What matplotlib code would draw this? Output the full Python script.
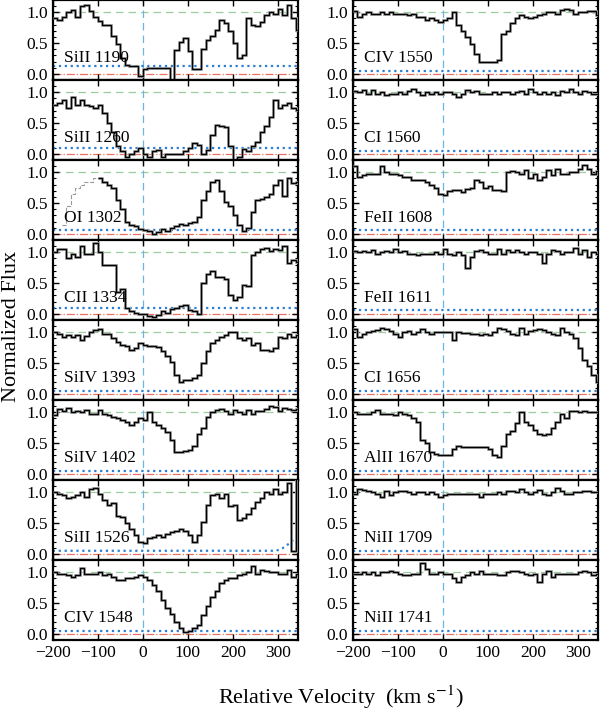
import numpy as np
import matplotlib
matplotlib.use("Agg")
import matplotlib.pyplot as plt
from matplotlib.ticker import MultipleLocator

plt.rcParams['font.family'] = ['Liberation Serif', 'DejaVu Serif']
plt.rcParams['mathtext.fontset'] = 'stix'

nan = np.nan
v_start = -200   # first bin edge, km/s
v_step = 10      # bin width, km/s

# normalized flux per transition (10 km/s bins from -200)
sii1190 = [0.90, 0.88, 0.92, 1.00, 1.03, 0.92, 1.10, 1.12, 1.02, 0.92,
           0.86, 0.80, 0.80, 0.62, 0.48, 0.25, 0.15, 0.13, 0.13, -0.03,
           0.08, 0.10, 0.10, 0.10, 0.10, 0.10, -0.15, 0.38, 0.52, 0.58,
           0.37, 0.08, 0.08, 0.40, 0.55, 0.62, 0.72, 0.88, 0.82, 0.70,
           0.50, 0.26, 0.30, 0.90, 0.80, 0.77, 0.85, 0.95, 1.00, 0.97,
           1.05, 0.95, 1.12, 0.90, 0.72]
sii1260 = [0.80, 0.82, 0.88, 0.75, 0.92, 0.80, 0.88, 0.80, 0.78, 0.75,
           0.80, 0.67, 0.50, 0.35, 0.12, 0.05, -0.05, 0.00, 0.05, 0.10,
           0.00, -0.05, 0.05, 0.07, -0.05, 0.00, 0.00, 0.00, 0.00, 0.05,
           0.10, 0.17, 0.14, 0.00, 0.07, 0.30, 0.47, 0.45, 0.44, 0.13,
           -0.12, -0.05, 0.08, 0.05, 0.12, 0.20, 0.35, 0.45, 0.60, 0.87,
           0.75, 0.80, 0.82, 0.75, 0.72]
oi1302 = [nan, nan, nan, nan, nan, nan, nan, nan, nan, nan,
          0.90, 0.85, 0.80, 0.75, 0.55, 0.40, 0.20, 0.15, 0.12, 0.08,
          0.07, 0.05, 0.00, 0.03, 0.08, 0.05, 0.10, 0.13, 0.16, 0.14,
          0.17, 0.20, 0.28, 0.55, 0.70, 0.85, 0.88, 0.70, 0.52, 0.45,
          0.30, 0.15, 0.04, 0.10, 0.35, 0.55, 0.57, 0.60, 0.65, 0.80,
          0.88, 0.62, 0.90, 0.83, 0.85]
# blended part of OI 1302 (grey, -180 to -100 km/s)
oi1302_blend = [0.15, 0.45, 0.65, 0.75, 0.80, 0.85, 0.85, 0.90]
cii1334 = [1.00, 1.05, 1.05, 0.90, 0.98, 0.92, 1.10, 0.97, 0.97, 1.15,
           1.00, 0.80, 0.80, 0.80, 0.35, 0.40, 0.10, 0.05, 0.02, 0.00,
           -0.01, -0.03, -0.05, -0.02, 0.05, 0.02, 0.08, 0.10, 0.12, 0.14,
           0.07, 0.05, 0.00, 0.50, 0.65, 0.70, 0.60, 0.60, 0.57, 0.30,
           0.22, 0.28, 0.47, 0.45, 0.95, 1.00, 1.05, 1.07, 1.02, 1.05,
           1.03, 1.10, 0.82, 0.88, 0.85]
siiv1393 = [1.00, 0.97, 0.92, 0.95, 0.92, 0.95, 0.88, 0.94, 1.00, 1.04,
            1.05, 0.98, 0.97, 0.90, 0.85, 0.80, 0.77, 0.72, 0.75, 0.83,
            0.80, 0.78, 0.77, 0.76, 0.70, 0.62, 0.52, 0.30, 0.20, 0.22,
            0.23, 0.25, 0.30, 0.50, 0.70, 0.82, 0.87, 0.93, 0.95, 1.00,
            1.00, 0.90, 0.88, 0.90, 0.80, 0.82, 0.72, 0.72, 0.70, 0.75,
            0.93, 0.90, 0.97, 0.92, 0.95]
siiv1402 = [0.95, 1.05, 1.02, 1.07, 1.00, 1.02, 1.00, 1.03, 0.97, 0.98,
            1.03, 0.98, 0.95, 0.93, 0.90, 0.88, 0.85, 0.80, 0.85, 0.90,
            0.87, 1.00, 0.85, 0.80, 0.75, 0.68, 0.55, 0.36, 0.35, 0.37,
            0.38, 0.45, 0.65, 0.75, 0.93, 1.00, 1.03, 1.05, 1.02, 0.98,
            1.03, 1.00, 0.98, 1.03, 0.98, 1.02, 1.02, 1.05, 1.10, 1.08,
            1.02, 1.07, 1.05, 1.03, 1.05]
sii1526 = [1.00, 0.97, 0.95, 0.90, 0.92, 0.95, 1.00, 0.92, 1.05, 1.07,
           0.97, 0.88, 0.80, 0.82, 0.62, 0.60, 0.50, 0.40, 0.30, 0.20,
           0.18, 0.25, 0.27, 0.30, 0.28, 0.32, 0.35, 0.37, 0.40, 0.37,
           0.30, 0.20, 0.30, 0.52, 0.80, 0.95, 0.97, 0.90, 0.98, 0.77,
           0.80, 0.55, 0.58, 0.65, 0.75, 0.85, 0.90, 1.00, 0.97, 1.05,
           0.98, 1.00, 1.15, 0.05, 1.30]
civ1548 = [1.00, 0.98, 0.97, 0.95, 0.92, 0.95, 1.07, 0.97, 0.97, 0.97,
           1.00, 0.95, 0.97, 0.92, 0.88, 0.88, 0.90, 0.90, 0.92, 0.95,
           0.93, 0.88, 0.80, 0.70, 0.55, 0.42, 0.32, 0.20, 0.10, 0.03,
           0.05, 0.10, 0.15, 0.30, 0.45, 0.60, 0.70, 0.82, 0.87, 0.90,
           0.90, 0.95, 0.97, 1.00, 1.10, 0.97, 1.03, 1.02, 1.00, 1.00,
           0.98, 0.98, 1.03, 0.93, 0.97]
civ1550 = [1.02, 0.93, 0.98, 1.00, 0.97, 0.98, 1.00, 0.98, 1.00, 0.97,
           0.98, 0.97, 0.95, 0.97, 0.93, 0.93, 0.88, 0.90, 0.88, 0.85,
           0.87, 0.90, 1.00, 0.80, 0.70, 0.60, 0.48, 0.32, 0.20, 0.19,
           0.20, 0.20, 0.22, 0.65, 0.70, 0.82, 0.90, 0.95, 0.92, 0.90,
           0.92, 0.95, 0.98, 1.00, 1.00, 0.98, 1.03, 1.05, 1.03, 0.98,
           1.00, 1.00, 1.02, 1.02, 0.95]
ci1560 = [1.02, 1.00, 1.03, 0.98, 1.03, 0.97, 1.00, 0.95, 0.97, 0.98,
          1.00, 0.97, 1.02, 1.05, 1.00, 0.95, 1.00, 0.98, 1.00, 0.98,
          1.00, 1.00, 0.97, 0.93, 0.97, 1.03, 1.00, 1.02, 0.97, 0.97,
          0.98, 1.00, 0.98, 1.00, 1.00, 0.98, 1.00, 1.02, 0.97, 1.05,
          1.00, 0.98, 1.00, 0.97, 1.00, 0.95, 1.02, 1.00, 1.05, 1.00,
          0.98, 1.02, 1.00, 0.97, 0.98]
feii1608 = [1.10, 0.93, 0.95, 0.97, 0.97, 0.98, 1.10, 1.00, 0.98, 0.97,
            0.95, 0.93, 0.93, 0.88, 0.87, 0.88, 0.85, 0.80, 0.75, 0.65,
            0.63, 0.70, 0.72, 0.72, 0.68, 0.73, 0.75, 0.88, 0.85, 0.75,
            0.78, 0.72, 0.72, 0.70, 1.00, 1.02, 1.00, 0.97, 1.03, 0.90,
            0.98, 0.88, 0.92, 1.03, 0.95, 1.05, 0.98, 0.98, 1.00, 1.00,
            1.05, 1.12, 1.05, 0.97, 1.02]
feii1611 = [1.02, 1.00, 1.02, 1.00, 1.03, 0.98, 1.00, 1.02, 1.00, 1.05,
            1.00, 1.02, 0.98, 0.97, 0.95, 0.97, 0.97, 0.98, 1.00, 0.97,
            1.05, 0.97, 0.95, 1.00, 0.95, 0.75, 0.93, 1.02, 1.03, 1.00,
            0.97, 0.98, 1.05, 0.98, 1.03, 1.00, 1.03, 1.00, 0.97, 1.00,
            1.00, 0.97, 0.82, 0.98, 1.03, 1.02, 0.97, 1.00, 1.00, 1.07,
            0.98, 1.03, 0.93, 1.00, 0.98]
ci1656 = [1.05, 0.93, 0.98, 1.00, 1.02, 1.03, 1.07, 1.05, 1.02, 0.98,
          0.92, 1.00, 1.02, 0.98, 1.00, 1.05, 1.00, 0.98, 1.00, 1.00,
          1.00, 1.00, 0.87, 1.00, 0.99, 0.99, 0.98, 0.97, 0.95, 0.97,
          0.96, 1.00, 1.07, 1.05, 1.02, 0.98, 0.95, 1.07, 0.97, 1.02,
          1.03, 1.05, 1.03, 1.00, 0.97, 0.95, 1.07, 1.00, 0.97, 0.90,
          0.75, 0.55, 0.45, 0.30, 0.20]
alii1670 = [1.00, 0.98, 0.97, 0.98, 1.00, 1.03, 0.97, 0.97, 0.97, 0.95,
            1.00, 0.97, 0.95, 0.90, 0.85, 0.55, 0.50, 0.35, 0.33, 0.30,
            0.30, 0.30, 0.40, 0.45, 0.44, 0.43, 0.43, 0.43, 0.43, 0.43,
            0.40, 0.30, 0.28, 0.45, 0.65, 0.70, 0.82, 1.00, 0.85, 0.80,
            0.72, 0.65, 0.63, 0.65, 0.75, 0.85, 0.98, 0.90, 1.02, 1.02,
            1.00, 1.02, 1.00, 1.00, 1.00]
niii1709 = [0.98, 1.05, 1.03, 1.02, 1.00, 0.97, 0.92, 1.02, 0.95, 1.00,
            1.02, 1.02, 1.00, 0.98, 1.00, 1.00, 0.98, 1.00, 0.98, 0.93,
            0.96, 0.97, 0.97, 0.98, 0.98, 0.97, 0.98, 0.97, 0.92, 0.98,
            0.97, 0.98, 1.00, 0.98, 1.02, 1.02, 1.00, 1.05, 1.00, 0.97,
            1.00, 1.03, 0.98, 0.95, 1.00, 1.07, 1.02, 0.98, 0.98, 1.00,
            1.00, 1.02, 1.02, 1.00, 1.00]
niii1741 = [0.98, 0.97, 1.00, 0.97, 1.00, 0.95, 1.00, 1.00, 1.02, 1.00,
            0.97, 0.96, 0.96, 0.98, 0.97, 1.15, 1.05, 0.97, 0.97, 1.00,
            0.97, 0.97, 0.90, 0.85, 0.92, 0.95, 1.00, 0.98, 1.02, 0.98,
            0.98, 0.97, 0.96, 0.95, 1.00, 1.02, 1.02, 1.00, 0.98, 0.95,
            0.97, 0.85, 0.98, 1.02, 0.93, 0.97, 0.98, 0.98, 0.97, 0.98,
            1.00, 1.02, 1.00, 0.95, 0.98]

left_names = ['SiII 1190', 'SiII 1260', 'OI 1302', 'CII 1334',
              'SiIV 1393', 'SiIV 1402', 'SiII 1526', 'CIV 1548']
right_names = ['CIV 1550', 'CI 1560', 'FeII 1608', 'FeII 1611',
               'CI 1656', 'AlII 1670', 'NiII 1709', 'NiII 1741']
left_flux = [sii1190, sii1260, oi1302, cii1334, siiv1393, siiv1402, sii1526, civ1548]
right_flux = [civ1550, ci1560, feii1608, feii1611, ci1656, alii1670, niii1709, niii1741]
# error level per panel
left_err = [0.12, 0.10, 0.07, 0.10, 0.05, 0.05, 0.05, 0.05]
right_err = [0.05, 0.05, 0.07, 0.07, 0.05, 0.05, 0.05, 0.05]
# SiII 1526 error rises at the red end
sii1526_err_v = [-200, 280, 290, 300, 310, 320, 330, 340, 345]
sii1526_err = [0.05, 0.05, 0.05, 0.06, 0.09, 0.14, 0.20, 0.27, 0.30]

fig = plt.figure(figsize=(6, 7.2), dpi=100)
ph = 0.8 / 7.2

def draw(ax, name, flux, err, bottom):
    flux = np.array(flux, dtype=float)
    edges = v_start + v_step * np.arange(len(flux) + 1)
    ok = ~np.isnan(flux)
    i0 = np.argmax(ok)
    ax.axhline(1.0, color='#9acd9a', ls=(0, (6, 4)), lw=0.9, zorder=1)
    ax.axhline(0.0, color='#f07060', ls='-.', lw=0.9, zorder=1)
    ax.axvline(0.0, color='#6ab4ea', ls=(0, (6, 4)), lw=0.9, zorder=1)
    if name == 'SiII 1526':
        ax.plot(sii1526_err_v, sii1526_err, color='#2a7fd4', ls=':', lw=1.6, zorder=2)
    else:
        ax.axhline(err, color='#2a7fd4', ls=':', lw=1.6, zorder=2)
    if name == 'OI 1302':
        be = -180 + v_step * np.arange(len(oi1302_blend) + 1)
        ax.stairs(oi1302_blend, be, color='0.6', ls='--', lw=0.8, baseline=None, zorder=3)
    ax.stairs(flux[i0:], edges[i0:], color='0.65', lw=2.0, baseline=None, zorder=3)
    ax.stairs(flux[i0:], edges[i0:], color='black', lw=1.0, baseline=None, zorder=4)
    ax.text(-175, 0.13, name, fontsize=12.5, va='bottom', ha='left')
    ax.set_xlim(-200, 345)
    ax.set_ylim(-0.1, 1.2)
    ax.set_yticks([0.0, 0.5, 1.0])
    ax.set_yticklabels(['0.0', '0.5', '1.0'])
    ax.yaxis.set_minor_locator(MultipleLocator(0.1))
    ax.xaxis.set_major_locator(MultipleLocator(100))
    ax.tick_params(which='both', direction='in', top=True, right=True, labelsize=12.5)
    ax.tick_params(which='major', length=4, width=1)
    ax.tick_params(which='minor', length=2, width=0.8)
    for s in ax.spines.values():
        s.set_linewidth(1.6)
    if not bottom:
        ax.set_xticklabels([])
    else:
        ax.set_xticks([-200, -100, 0, 100, 200, 300])
        ax.set_xticklabels(['\u2212200', '\u2212100', '0', '100', '200', '300'])

for i in range(8):
    y0 = 1 - (i + 1) * ph
    axl = fig.add_axes([0.088, y0, 0.409, ph])
    draw(axl, left_names[i], left_flux[i], left_err[i], i == 7)
    axr = fig.add_axes([0.588, y0, 0.409, ph])
    draw(axr, right_names[i], right_flux[i], right_err[i], i == 7)

fig.text(0.02, 0.546, 'Normalized Flux', rotation=90, fontsize=16, ha='center', va='center')
fig.text(0.568, 0.031, 'Relative Velocity  (km s$^{-1}$)', fontsize=16, ha='center', va='center')

plt.savefig('out.png', dpi=100)
